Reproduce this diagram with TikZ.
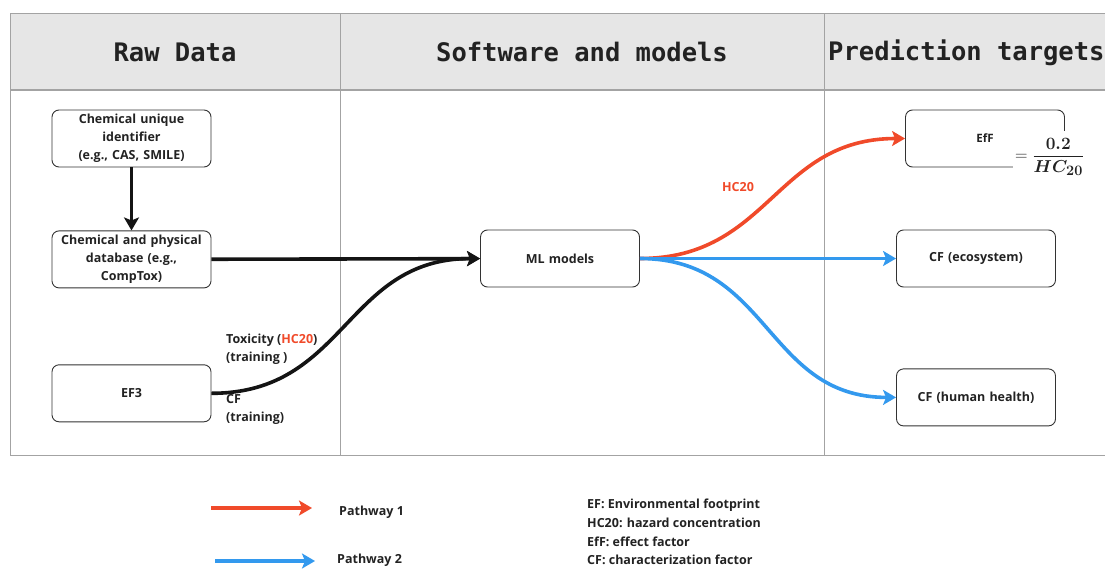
\documentclass[tikz,border=0pt]{standalone}
\usepackage{amsmath}
\usepackage{fontspec}
\setmainfont{Open Sans}
\newfontfamily\headfont{DejaVu Sans Mono}
\usetikzlibrary{positioning,arrows.meta}
\definecolor{pathred}{HTML}{F04A2A}
\definecolor{pathblue}{HTML}{3399EE}
\definecolor{headgray}{HTML}{E6E6E6}
\definecolor{rulegray}{HTML}{A3A3A3}
\definecolor{ink}{HTML}{222222}

\begin{document}
\begin{tikzpicture}[
  x=1pt, y=-1pt,
  every node/.style={font=\fontsize{12.5}{18}\selectfont\bfseries, text=ink},
  box/.style={draw=black!80, line width=0.9pt, rounded corners=7pt, align=center, minimum width=159pt, minimum height=57pt, inner sep=2pt, text width=155pt},
  head/.style={font=\headfont\fontsize{25.5}{30}\selectfont\bfseries},
  arr/.style={-{Stealth[length=13pt, width=15pt, inset=3pt]}, line width=3.6pt, draw=#1},
  arr/.default=black!92,
  lbl/.style={align=left, anchor=west, inner sep=0pt},
  rule/.style={draw=rulegray, line width=0.7pt}
]
\useasboundingbox (0,0) rectangle (1105,570);

% Table frame with grey header band
\fill[headgray] (10,13) rectangle (1105,90);
\draw[rule] (1105,13) -- (10,13) -- (10,455) -- (1105,455);
\draw[rule, line width=1.4pt] (10,90) -- (1105,90);
\draw[rule] (340,13) -- (340,455);
\draw[rule] (824,13) -- (824,455);

% Column headers
\node[head] (hraw) at (175,52) {Raw Data};
\node[head] (hsoft) at (582,52) {Software and models};
\node[head, anchor=west, inner sep=0pt] (htarget) at (828,53) {Prediction targets};

% Column 1: raw data
\node[box] (cui) at (131.5,138.5) {Chemical unique\\identifier\\(e.g., CAS, SMILE)};
\node[box, below=63pt of cui] (cpd) {Chemical and physical\\database (e.g.,\\CompTox)};
\node[box, below=76pt of cpd] (ef3) {EF3};

% Column 2: model
\node[box, minimum width=156pt] (ml) at (560,258.5) {ML models};

% Column 3: targets
\node[box, minimum width=156pt, font=\fontsize{11.5}{14}\selectfont\bfseries] (eff) at (985,138.5) {EfF};
\node[fill=white, inner sep=2pt, minimum height=52pt, anchor=west, font=\fontsize{19}{22}\selectfont] (frm) at (1013,157) {$=\dfrac{\boldsymbol{0.2}}{\boldsymbol{HC_{20}}}$};
\node[box, minimum width=156pt] (ceco) at (976,258.5) {CF (ecosystem)};
\node[box, minimum width=156pt, below=81pt of ceco] (chh) {CF (human health)};

% Edge labels
\node[lbl] (tox) at (226,349) {Toxicity (\textcolor{pathred}{HC20})\\(training )};
\node[lbl] (cft) at (226,409.5) {CF\\(training)};
\node[text=pathred] (hc) at (738,187) {HC20};

% Connections
\draw[arr] (cui) -- (cpd);
\draw[arr] (cpd) -- (ml);
\draw[arr] (ef3.east) .. controls +(135,0) and +(-135,0) .. (ml.west);
\draw[arr=pathred] (ml.east) .. controls +(130,0) and +(-130,0) .. (eff.west);
\draw[arr=pathblue] (ml.east) .. controls +(130,0) and +(-130,0) .. (chh.west);
\draw[arr=pathblue] (ml) -- (ceco);

% Legend
\coordinate (r1) at (211,508);
\coordinate (r2) at (312,508);
\coordinate (b1) at (215,561);
\coordinate (b2) at (315,561);
\draw[arr=pathred] (r1) -- (r2);
\draw[arr=pathblue] (b1) -- (b2);
\node[lbl] (pw1) at (339,512) {Pathway 1};
\node[lbl] (pw2) at (337,560) {Pathway 2};
\node[lbl, font=\fontsize{12.5}{18.6}\selectfont\bfseries] (abbr) at (587,532) {EF: Environmental footprint\\HC20: hazard concentration\\EfF: effect factor\\CF: characterization factor};
\end{tikzpicture}
\end{document}
